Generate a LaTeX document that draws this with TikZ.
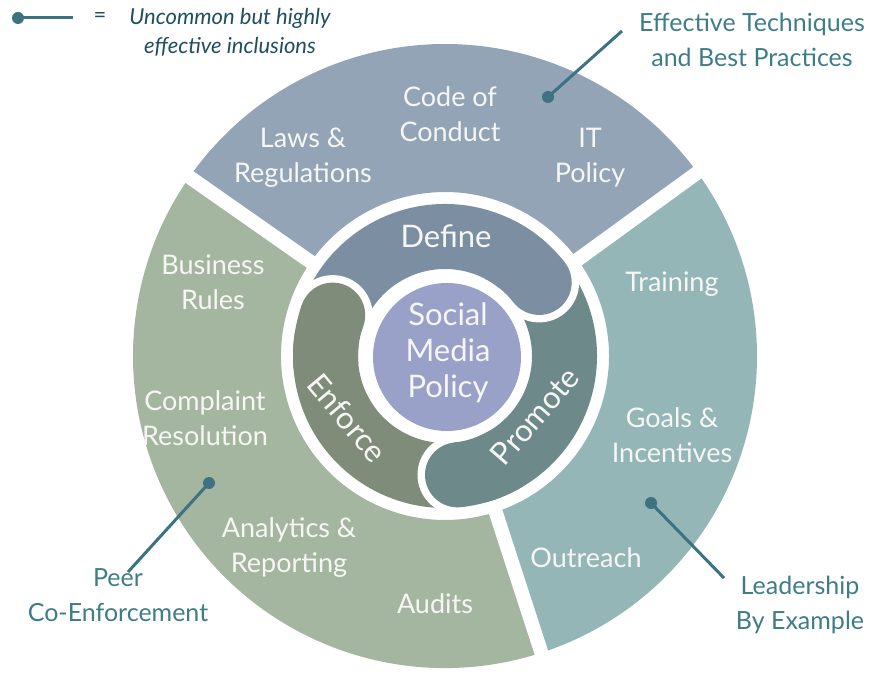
\documentclass[tikz,border=0pt]{standalone}
\usepackage{fontspec}
\setmainfont{Lato}
\definecolor{topc}{HTML}{92A4B6}
\definecolor{leftc}{HTML}{A4B5A0}
\definecolor{rightc}{HTML}{94B6B6}
\definecolor{definec}{HTML}{7C8FA2}
\definecolor{enforcec}{HTML}{7E8C79}
\definecolor{promotec}{HTML}{6D898A}
\definecolor{centerc}{HTML}{99A1C9}
\definecolor{calloutc}{HTML}{3C7282}
\definecolor{callouttext}{HTML}{3E7C88}
\definecolor{legendc}{HTML}{1F4F5E}
\definecolor{labelc}{HTML}{F6F6F4}
\newcommand{\annsec}[3]{\fill[#1] (#2:87) arc[start angle=#2,end angle=#3,radius=87] -- (#3:152) arc[start angle=#3,end angle=#2,radius=152] -- cycle;}
\newcommand{\outsec}[3]{\fill[#1] (#2:164) arc[start angle=#2,end angle=#3,radius=164] -- (#3:312) arc[start angle=#3,end angle=#2,radius=312] -- cycle;}
\newcommand{\headcap}[3]{\fill[white] (#2:119.5) circle[radius=40];\fill[#1] (#2:119.5) circle[radius=32.5];\annsec{#1}{#2}{#3}}
\begin{document}
\begin{tikzpicture}[x=1pt,y=1pt,
  lbl/.style={text=labelc,font=\fontsize{27}{35}\selectfont,align=center,inner sep=0pt},
  inlbl/.style={text=labelc,font=\fontsize{31}{36}\selectfont,align=center,inner sep=0pt},
  calltext/.style={text=callouttext,font=\fontsize{25}{35}\selectfont,align=center,inner sep=0pt},
  callline/.style={draw=calloutc,line width=3pt},
  calldot/.style={fill=calloutc}]
\useasboundingbox (0,0) rectangle (888,678);
\begin{scope}[shift={(445,322)}]
  \outsec{topc}{36}{145}
  \outsec{rightc}{-72}{36}
  \outsec{leftc}{145}{288}
  \foreach \a in {36,145,288} \draw[white,line width=14pt] (\a:158) -- (\a:330);
  \annsec{definec}{38}{160}
  \annsec{promotec}{-84}{38}
  \annsec{enforcec}{160}{276}
  \headcap{definec}{38}{63}
  \headcap{promotec}{-84}{-59}
  \headcap{enforcec}{160}{185}
  \fill[centerc] (2,-1) circle[radius=74];
\end{scope}
% outer labels
\node[lbl] (code) at (450,564) {Code of\\Conduct};
\node[lbl] (laws) at (303,520) {Laws \&\\Regulations};
\node[lbl] (it) at (590,520) {IT\\Policy};
\node[lbl] (bus) at (213,396) {Business\\Rules};
\node[lbl] (comp) at (205,260) {Complaint\\Resolution};
\node[lbl] (ana) at (289,130) {Analytics \&\\Reporting};
\node[lbl] (aud) at (435,74) {Audits};
\node[lbl] (train) at (672,394) {Training};
\node[lbl] (goals) at (672,243) {Goals \&\\Incentives};
\node[lbl] (out) at (586,120) {Outreach};
% inner labels
\node[inlbl] (def) at (446,442) {Define};
\node[inlbl] (smp) at (448,325) {Social\\Media\\Policy};
\node[inlbl,rotate=-50] (enf) at (347,260) {Enforce};
\node[inlbl,rotate=49] (pro) at (535,262) {Promote};
% callouts
\node[calltext] (et) at (752,638) {Effective Techniques\\and Best Practices};
\node[calltext] (peer) at (118,83) {Peer\\Co-Enforcement};
\node[calltext] (lead) at (800,73) {Leadership\\By Example};
\coordinate (etdot) at (548,581);
\coordinate (etend) at (622,647);
\coordinate (peerdot) at (209,195);
\coordinate (peerend) at (128,106);
\coordinate (leaddot) at (651,175);
\coordinate (leadend) at (724,100);
\draw[callline] (etdot) -- (etend);
\draw[callline] (peerdot) -- (peerend);
\draw[callline] (leaddot) -- (leadend);
\fill[calldot] (etdot) circle[radius=6];
\fill[calldot] (peerdot) circle[radius=6];
\fill[calldot] (leaddot) circle[radius=6];
% legend
\coordinate (legdot) at (18,660);
\coordinate (legend) at (73,660);
\draw[callline] (legdot) -- (legend);
\fill[calldot] (legdot) circle[radius=6];
\node[text=legendc,font=\fontsize{22}{29}\selectfont,inner sep=0pt] (eq) at (100,660) {=};
\node[text=legendc,font=\fontsize{22}{29}\selectfont\itshape,align=center,inner sep=0pt] (legtext) at (230,646) {Uncommon but highly\\effective inclusions};
\end{tikzpicture}
\end{document}
